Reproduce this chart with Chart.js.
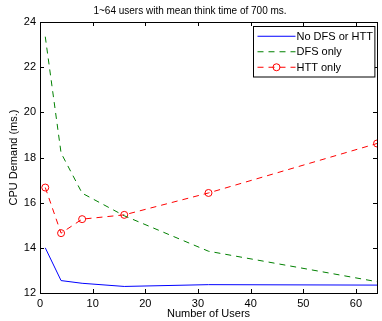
<!DOCTYPE html>
<html>
<head>
<meta charset="utf-8">
<script src="https://cdn.jsdelivr.net/npm/chart.js@4"></script>
<style>
  html, body { margin: 0; padding: 0; background: #fff; }
  #wrap { width: 382px; height: 321px; }
</style>
</head>
<body>
<div id="wrap"><canvas id="cpuChart" width="382" height="321"></canvas></div>
<script>
// данные с графика
const users = [1, 4, 8, 16, 32, 64];
const noDfsHtt = [14.0, 12.55, 12.43, 12.29, 12.37, 12.35];
const dfsOnly = [23.35, 18.2, 16.42, 15.42, 13.85, 12.5];
const httOnly = [16.67, 14.65, 15.27, 15.46, 16.43, 18.62];
const seriesNames = ['No DFS or HTT', 'DFS only', 'HTT only'];
const xTicks = [0, 10, 20, 30, 40, 50, 60];
const yTicks = [12, 14, 16, 18, 20, 22, 24];

const FONT = 'Helvetica, "Liberation Sans", Arial, sans-serif';

// рамка и внутренние засечки в стиле MATLAB
const framePlugin = {
    id: 'frame',
    afterDatasetsDraw(chart) {
        const { ctx, chartArea: a, scales } = chart;
        ctx.save();
        ctx.strokeStyle = '#000';
        ctx.lineWidth = 1;
        ctx.strokeRect(Math.round(a.left) + 0.5, Math.round(a.top) + 0.5,
            Math.round(a.right - a.left), Math.round(a.bottom - a.top));
        const len = 4;
        ctx.beginPath();
        xTicks.forEach(v => {
            const px = Math.round(scales.x.getPixelForValue(v)) + 0.5;
            ctx.moveTo(px, a.bottom); ctx.lineTo(px, a.bottom - len);
            ctx.moveTo(px, a.top); ctx.lineTo(px, a.top + len);
        });
        yTicks.forEach(v => {
            const py = Math.round(scales.y.getPixelForValue(v)) + 0.5;
            ctx.moveTo(a.left, py); ctx.lineTo(a.left + len, py);
            ctx.moveTo(a.right, py); ctx.lineTo(a.right - len, py);
        });
        ctx.stroke();
        ctx.restore();
    }
};

// легенда внутри области графика
const legendPlugin = {
    id: 'boxLegend',
    afterDraw(chart) {
        const { ctx, chartArea: a } = chart;
        ctx.save();
        ctx.font = '11px ' + FONT;
        const textW = Math.max(...seriesNames.map(s => ctx.measureText(s).width));
        const sample = 38, gap = 1, padL = 4, padR = 2, rowH = 15.5;
        const w = padL + sample + gap + textW + padR;
        const h = rowH * seriesNames.length + 4;
        const x0 = Math.round(a.right - 3 - w) + 0.5;
        const y0 = Math.round(a.top + 4) + 0.5;
        ctx.fillStyle = '#fff';
        ctx.fillRect(x0, y0, w, h);
        ctx.strokeStyle = '#000';
        ctx.lineWidth = 1;
        ctx.strokeRect(x0, y0, w, h);
        chart.data.datasets.forEach((ds, i) => {
            const cy = y0 + 2 + rowH * i + rowH / 2;
            ctx.strokeStyle = ds.borderColor;
            ctx.setLineDash(ds.borderDash || []);
            ctx.beginPath();
            ctx.moveTo(x0 + padL, cy);
            ctx.lineTo(x0 + padL + sample, cy);
            ctx.stroke();
            ctx.setLineDash([]);
            if (ds.pointRadius > 0) {
                ctx.beginPath();
                ctx.arc(x0 + padL + sample / 2, cy, ds.pointRadius, 0, Math.PI * 2);
                ctx.stroke();
            }
            ctx.fillStyle = '#000';
            ctx.textBaseline = 'middle';
            ctx.fillText(ds.label, x0 + padL + sample + gap, cy + 0.5);
        });
        ctx.restore();
    }
};

const ctx = document.getElementById('cpuChart').getContext('2d');
const chart = new Chart(ctx, {
    type: 'line',
    data: {
        datasets: [
            {
                label: seriesNames[0],
                data: users.map((u, i) => ({ x: u, y: noDfsHtt[i] })),
                borderColor: '#0000ff', borderWidth: 1, pointRadius: 0, tension: 0
            },
            {
                label: seriesNames[1],
                data: users.map((u, i) => ({ x: u, y: dfsOnly[i] })),
                borderColor: '#008000', borderWidth: 1, borderDash: [6, 5], pointRadius: 0, tension: 0
            },
            {
                label: seriesNames[2],
                data: users.map((u, i) => ({ x: u, y: httOnly[i] })),
                borderColor: '#ff0000', borderWidth: 1, borderDash: [6, 5], tension: 0,
                pointRadius: 3.5, pointStyle: 'circle', pointBorderColor: '#ff0000',
                pointBackgroundColor: 'rgba(0,0,0,0)', pointBorderWidth: 1
            }
        ]
    },
    options: {
        responsive: false,
        animation: false,
        layout: { padding: { left: 0, right: 2, top: 0, bottom: 0 } },
        plugins: {
            legend: { display: false },
            tooltip: { enabled: false },
            title: {
                display: true,
                text: '1~64 users with mean think time of 700 ms.',
                color: '#000',
                font: { family: FONT, size: 10, weight: 'normal' },
                padding: { top: 5, bottom: 5 }
            }
        },
        scales: {
            x: {
                type: 'linear', min: 0, max: 64,
                afterBuildTicks: s => { s.ticks = xTicks.map(v => ({ value: v })); },
                afterFit: s => { s.height = 28; },
                grid: { display: false, drawTicks: false },
                border: { display: false },
                ticks: { color: '#000', padding: 4, maxRotation: 0, font: { family: FONT, size: 11 } },
                title: {
                    display: true, text: 'Number of Users', color: '#000',
                    font: { family: FONT, size: 11 }, padding: { top: 0, bottom: 0 }
                }
            },
            y: {
                type: 'linear', min: 12, max: 24,
                afterBuildTicks: s => { s.ticks = yTicks.map(v => ({ value: v })); },
                afterFit: s => { s.width = 40; },
                grid: { display: false, drawTicks: false },
                border: { display: false },
                ticks: { color: '#000', padding: 4, font: { family: FONT, size: 11 } },
                title: {
                    display: true, text: 'CPU Demand (ms.)', color: '#000',
                    font: { family: FONT, size: 11 }, padding: { top: 7, bottom: 0 }
                }
            }
        }
    },
    plugins: [framePlugin, legendPlugin]
});
</script>
</body>
</html>
